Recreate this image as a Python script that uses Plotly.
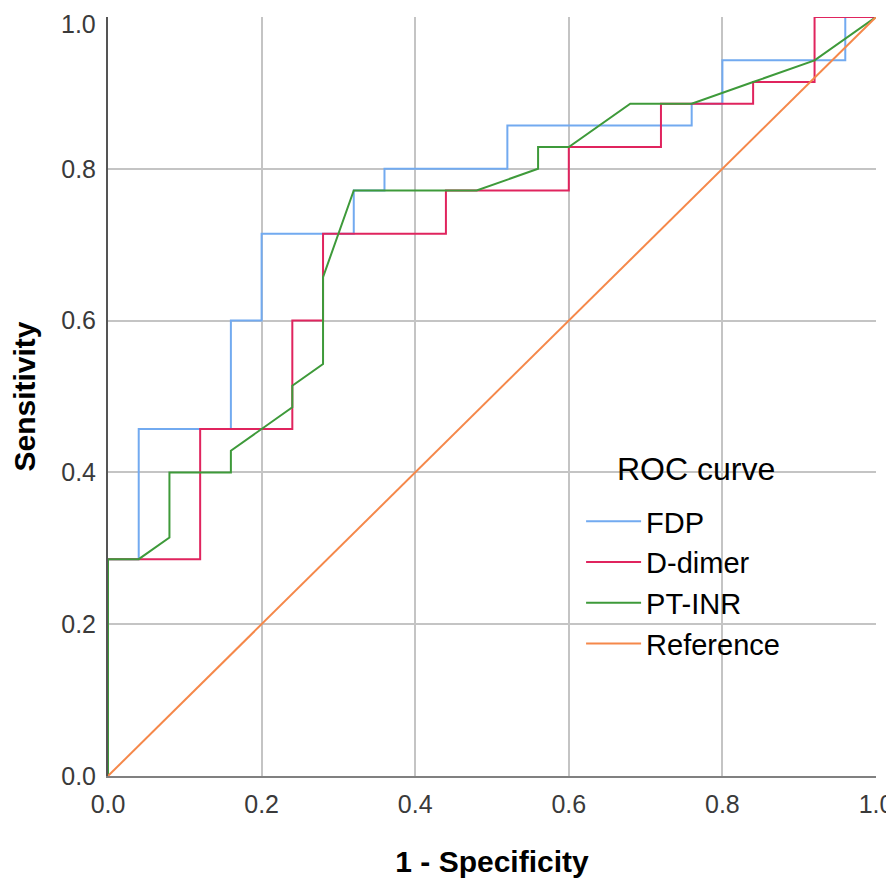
import plotly.graph_objects as go

fdp_x = [0, 0, 0.04, 0.04, 0.16, 0.16, 0.20, 0.20, 0.32, 0.32, 0.36, 0.36, 0.52, 0.52, 0.76, 0.76, 0.80, 0.80, 0.96, 0.96, 1.0]
fdp_y = [0, 10/35, 10/35, 16/35, 16/35, 21/35, 21/35, 25/35, 25/35, 27/35, 27/35, 28/35, 28/35, 30/35, 30/35, 31/35, 31/35, 33/35, 33/35, 1.0, 1.0]

dd_x = [0, 0, 0.12, 0.12, 0.24, 0.24, 0.28, 0.28, 0.44, 0.44, 0.60, 0.60, 0.72, 0.72, 0.84, 0.84, 0.92, 0.92, 1.0]
dd_y = [0, 10/35, 10/35, 16/35, 16/35, 21/35, 21/35, 25/35, 25/35, 27/35, 27/35, 29/35, 29/35, 31/35, 31/35, 32/35, 32/35, 1.0, 1.0]

pt_x = [0, 0, 0.04, 0.08, 0.08, 0.16, 0.16, 0.24, 0.24, 0.28, 0.28, 0.32, 0.48, 0.56, 0.56, 0.60, 0.68, 0.76, 0.84, 0.92, 1.0]
pt_y = [0, 10/35, 10/35, 11/35, 14/35, 14/35, 15/35, 17/35, 18/35, 19/35, 23/35, 27/35, 27/35, 28/35, 29/35, 29/35, 31/35, 31/35, 32/35, 33/35, 1.0]

ref_x = [0, 1]
ref_y = [0, 1]

names = ["FDP", "D-dimer", "PT-INR", "Reference"]
colors = ["#72AAF0", "#E0245E", "#3E9A3A", "#F5884A"]
series = [(fdp_x, fdp_y), (dd_x, dd_y), (pt_x, pt_y), (ref_x, ref_y)]
legend_title = "ROC curve"

tick_vals = [0, 0.2, 0.4, 0.6, 0.8, 1.0]
tick_text = ["0.0", "0.2", "0.4", "0.6", "0.8", "1.0"]

fig = go.Figure()
for (xs, ys), n, c in zip(series, names, colors):
    fig.add_trace(go.Scatter(x=xs, y=ys, mode="lines", name=n,
                             line=dict(color=c, width=2)))

tick_font = dict(family="Liberation Sans, Arial", size=25, color="#3A3A3A")
axis_common = dict(range=[0, 1], tickvals=tick_vals,
                   showgrid=True, gridcolor="#C4C4C4", gridwidth=2,
                   zeroline=False, ticks="", automargin=False,
                   tickfont=tick_font)

# top y label is drawn as an annotation, nudged down so it stays inside the page
y_text = tick_text[:-1] + [""]

fig.update_layout(
    width=886, height=879,
    margin=dict(l=100, r=18, t=9, b=111),
    paper_bgcolor="white", plot_bgcolor="white",
    font=dict(family="Liberation Sans, Arial", color="#000000"),
    xaxis=dict(**axis_common, ticktext=tick_text, showline=True, linecolor="#808080", linewidth=2,
               ticklabelstandoff=5,
               title=dict(text="<b>1 - Specificity</b>", font=dict(size=30, color="#000"), standoff=34)),
    yaxis=dict(**axis_common, ticktext=y_text, showline=True, linecolor="#555555", linewidth=2,
               ticklabelstandoff=5,
               title=dict(text="<b>Sensitivity</b>", font=dict(size=30, color="#000"), standoff=32)),
    legend=dict(x=0.616, y=0.369, xanchor="left", yanchor="top",
                bgcolor="rgba(0,0,0,0)", borderwidth=0, itemwidth=55,
                font=dict(size=29, color="#000")),
    annotations=[
        dict(text=legend_title, xref="x", yref="y", x=0.765, y=0.404,
             xanchor="center", yanchor="middle", showarrow=False,
             font=dict(size=32, color="#000")),
        dict(text=tick_text[-1], xref="paper", yref="y", x=0, y=tick_vals[-1],
             xanchor="right", yanchor="middle", xshift=-10, yshift=-7,
             showarrow=False, font=tick_font),
    ],
)

fig.write_html("out.html")
